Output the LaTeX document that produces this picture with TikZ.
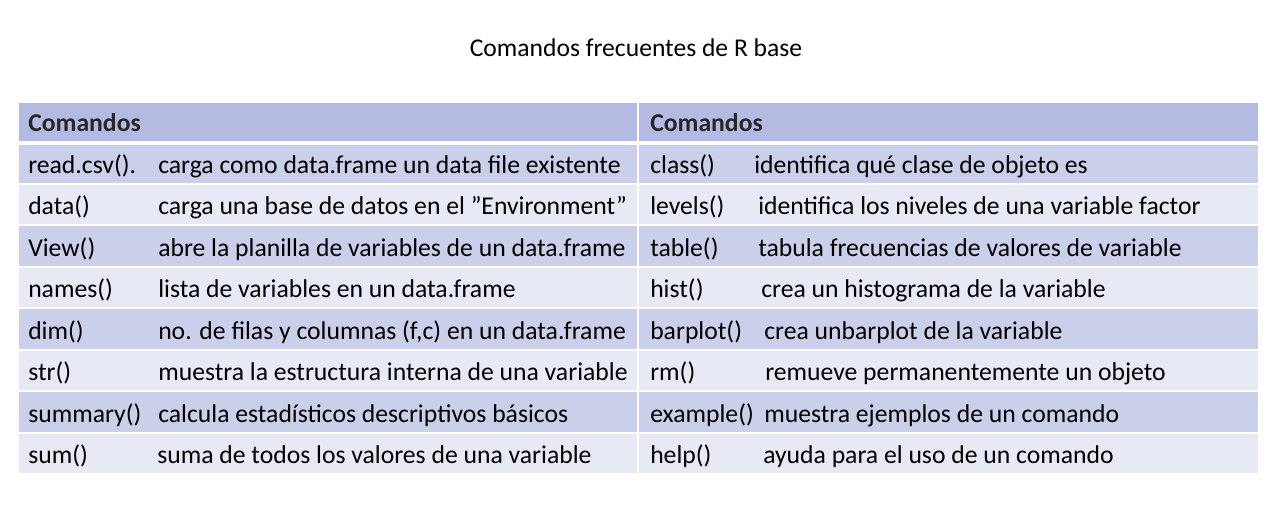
\documentclass[tikz,border=0pt]{standalone}
\usepackage{fontspec}
\setmainfont{Carlito}

\definecolor{headblue}{HTML}{B4BBE3}
\definecolor{rowdark}{HTML}{CACFEA}
\definecolor{rowlight}{HTML}{E7E9F5}
\tikzstyle{cell}=[draw=white, line width=1.5pt]
\tikzstyle{cmd}=[anchor=base west, inner sep=0, font=\fontsize{19.25}{22}\selectfont]
\tikzstyle{head}=[cmd, font=\fontsize{19.25}{22}\selectfont\bfseries, text=black!85]

\begin{document}
\begin{tikzpicture}[x=0.75pt, y=-0.75pt]
\useasboundingbox (0, 0) rectangle (1274, 519);

\node (title) [anchor=base, inner sep=0, font=\fontsize{19.2}{22}\selectfont] at (636, 56) {Comandos frecuentes de R base};

% header and rows
\filldraw [cell, fill=headblue] (18, 102) rectangle (638, 142);
\filldraw [cell, fill=headblue] (638, 102) rectangle (1259, 142);
\filldraw [cell, fill=rowdark] (18, 142) rectangle (638, 183.5);
\filldraw [cell, fill=rowdark] (638, 142) rectangle (1259, 183.5);
\filldraw [cell, fill=rowlight] (18, 183.5) rectangle (638, 225);
\filldraw [cell, fill=rowlight] (638, 183.5) rectangle (1259, 225);
\filldraw [cell, fill=rowdark] (18, 225) rectangle (638, 266.5);
\filldraw [cell, fill=rowdark] (638, 225) rectangle (1259, 266.5);
\filldraw [cell, fill=rowlight] (18, 266.5) rectangle (638, 308);
\filldraw [cell, fill=rowlight] (638, 266.5) rectangle (1259, 308);
\filldraw [cell, fill=rowdark] (18, 308) rectangle (638, 349.5);
\filldraw [cell, fill=rowdark] (638, 308) rectangle (1259, 349.5);
\filldraw [cell, fill=rowlight] (18, 349.5) rectangle (638, 391);
\filldraw [cell, fill=rowlight] (638, 349.5) rectangle (1259, 391);
\filldraw [cell, fill=rowdark] (18, 391) rectangle (638, 432.5);
\filldraw [cell, fill=rowdark] (638, 391) rectangle (1259, 432.5);
\filldraw [cell, fill=rowlight] (18, 432.5) rectangle (638, 474);
\filldraw [cell, fill=rowlight] (638, 432.5) rectangle (1259, 474);
\draw [white, line width=2.25pt] (18, 143) -- (1259, 143);

\node (headL) [head] at (28, 131) {Comandos};
\node (headR) [head] at (650, 131) {Comandos};

\node (readcsv) [cmd] at (28, 173) {read.csv().};
\node (data) [cmd] at (28, 214.5) {data()};
\node (view) [cmd] at (28, 256) {View()};
\node (names) [cmd] at (28, 297.5) {names()};
\node (dim) [cmd] at (28, 339) {dim()};
\node (str) [cmd] at (28, 380.5) {str()};
\node (summary) [cmd] at (28, 422) {summary()};
\node (sum) [cmd] at (28, 463.5) {sum()};

\node (readcsvtxt) [cmd] at (158, 173) {carga como data.frame un data file existente};
\node (datatxt) [cmd] at (158, 214.5) {carga una base de datos en el ”Environment”};
\node (viewtxt) [cmd] at (158, 256) {abre la planilla de variables de un data.frame};
\node (namestxt) [cmd] at (158, 297.5) {lista de variables en un data.frame};
\node (dimtxt) [cmd] at (158, 339) {no. de filas y columnas (f,c) en un data.frame};
\node (strtxt) [cmd] at (158, 380.5) {muestra la estructura interna de una variable};
\node (summarytxt) [cmd] at (158, 422) {calcula estadísticos descriptivos básicos};
\node (sumtxt) [cmd] at (157, 463.5) {suma de todos los valores de una variable};

\node (class) [cmd] at (650, 173) {class()};
\node (levels) [cmd] at (650, 214.5) {levels()};
\node (table) [cmd] at (650, 256) {table()};
\node (hist) [cmd] at (650, 297.5) {hist()};
\node (barplot) [cmd] at (650, 339) {barplot()};
\node (rm) [cmd] at (650, 380.5) {rm()};
\node (example) [cmd] at (650, 422) {example()};
\node (help) [cmd] at (650, 463.5) {help()};

\node (classtxt) [cmd] at (754, 173) {identifica qué clase de objeto es};
\node (levelstxt) [cmd] at (758, 214.5) {identifica los niveles de una variable factor};
\node (tabletxt) [cmd] at (758, 256) {tabula frecuencias de valores de variable};
\node (histtxt) [cmd] at (761, 297.5) {crea un histograma de la variable};
\node (barplottxt) [cmd] at (764, 339) {crea unbarplot de la variable};
\node (rmtxt) [cmd] at (765, 380.5) {remueve permanentemente un objeto};
\node (exampletxt) [cmd] at (764, 422) {muestra ejemplos de un comando};
\node (helptxt) [cmd] at (763, 463.5) {ayuda para el uso de un comando};

\end{tikzpicture}
\end{document}
